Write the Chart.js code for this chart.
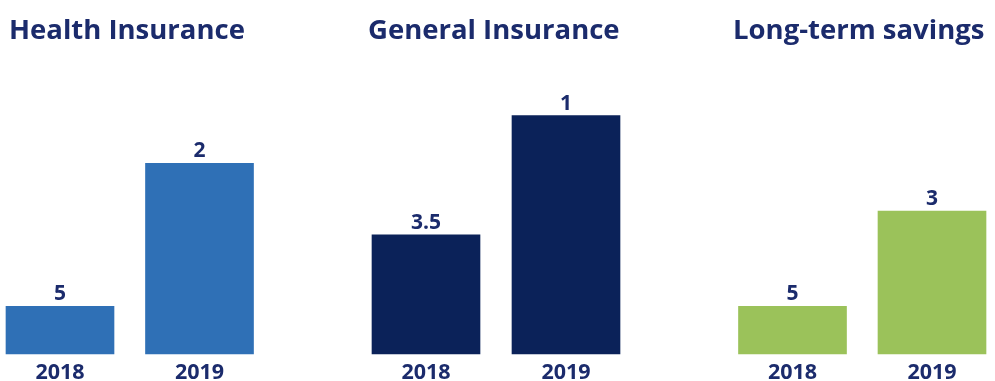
<!DOCTYPE html>
<html>
<head>
<meta charset="utf-8">
<script src="https://cdn.jsdelivr.net/npm/chart.js@4.4.1/dist/chart.umd.min.js"></script>
<style>
  html, body { margin: 0; padding: 0; background: #ffffff; overflow: hidden; }
  body { width: 995px; height: 381px; position: relative; }
  .panel { position: absolute; top: 0; }
</style>
</head>
<body>
<div class="panel" style="left:0px"><canvas id="health" width="265" height="381"></canvas></div>
<div class="panel" style="left:360px"><canvas id="general" width="270" height="381"></canvas></div>
<div class="panel" style="left:728px"><canvas id="savings" width="267" height="381"></canvas></div>
<script>
// Data
const years = ['2018', '2019'];
const healthValues = [1, 4];
const generalValues = [2.5, 5];
const savingsValues = [1, 3];
const healthLabels = ['5', '2'];
const generalLabels = ['3.5', '1'];
const savingsLabels = ['5', '3'];

const navy = '#1b2b6c';
const fontFamily = '"Open Sans", Lato, sans-serif';

// Writes the text above each bar
const barLabels = {
    id: 'barLabels',
    afterDatasetsDraw(chart, args, opts) {
        const ctx = chart.ctx;
        const meta = chart.getDatasetMeta(0);
        ctx.save();
        ctx.font = 'bold 21px ' + fontFamily;
        ctx.fillStyle = navy;
        ctx.textAlign = 'center';
        ctx.textBaseline = 'alphabetic';
        meta.data.forEach((bar, i) => {
            ctx.fillText(opts.texts[i], bar.x, bar.y - 6);
        });
        ctx.restore();
    }
};

function makePanel(id, title, values, texts, color, padLeft, leftWidth, rightWidth) {
    const ctx = document.getElementById(id).getContext('2d');
    return new Chart(ctx, {
        type: 'bar',
        data: {
            labels: years,
            datasets: [{
                data: values,
                backgroundColor: color,
                barThickness: 108,
                clip: false
            }]
        },
        options: {
            responsive: false,
            animation: false,
            layout: { padding: { left: padLeft, right: 0, top: 0, bottom: 0 } },
            plugins: {
                legend: { display: false },
                tooltip: { enabled: false },
                title: {
                    display: true,
                    text: title,
                    align: 'start',
                    color: navy,
                    font: { family: fontFamily, size: 27.5, weight: 'bold' },
                    padding: { top: 15, bottom: 20 }
                },
                barLabels: { texts: texts }
            },
            scales: {
                x: {
                    offset: false,
                    grid: { display: false, drawTicks: false },
                    border: { display: false },
                    ticks: {
                        color: navy,
                        padding: 6,
                        font: { family: fontFamily, size: 21.5, weight: 'bold' }
                    },
                    afterFit: (scale) => { scale.height = 27; }
                },
                y: {
                    min: 0,
                    max: 6,
                    grid: { display: false },
                    border: { display: false },
                    ticks: { display: false },
                    afterFit: (scale) => { scale.width = leftWidth; }
                },
                y2: {
                    position: 'right',
                    grid: { display: false },
                    border: { display: false },
                    ticks: { display: false },
                    afterFit: (scale) => { scale.width = rightWidth; }
                }
            }
        },
        plugins: [barLabels]
    });
}

makePanel('health', 'Health Insurance', healthValues, healthLabels, '#2f70b6', 9, 51, 65.5);
makePanel('general', 'General Insurance', generalValues, generalLabels, '#0b2259', 8, 58, 64);
makePanel('savings', 'Long-term savings', savingsValues, savingsLabels, '#9bc25a', 5, 59.5, 63);
</script>
</body>
</html>
